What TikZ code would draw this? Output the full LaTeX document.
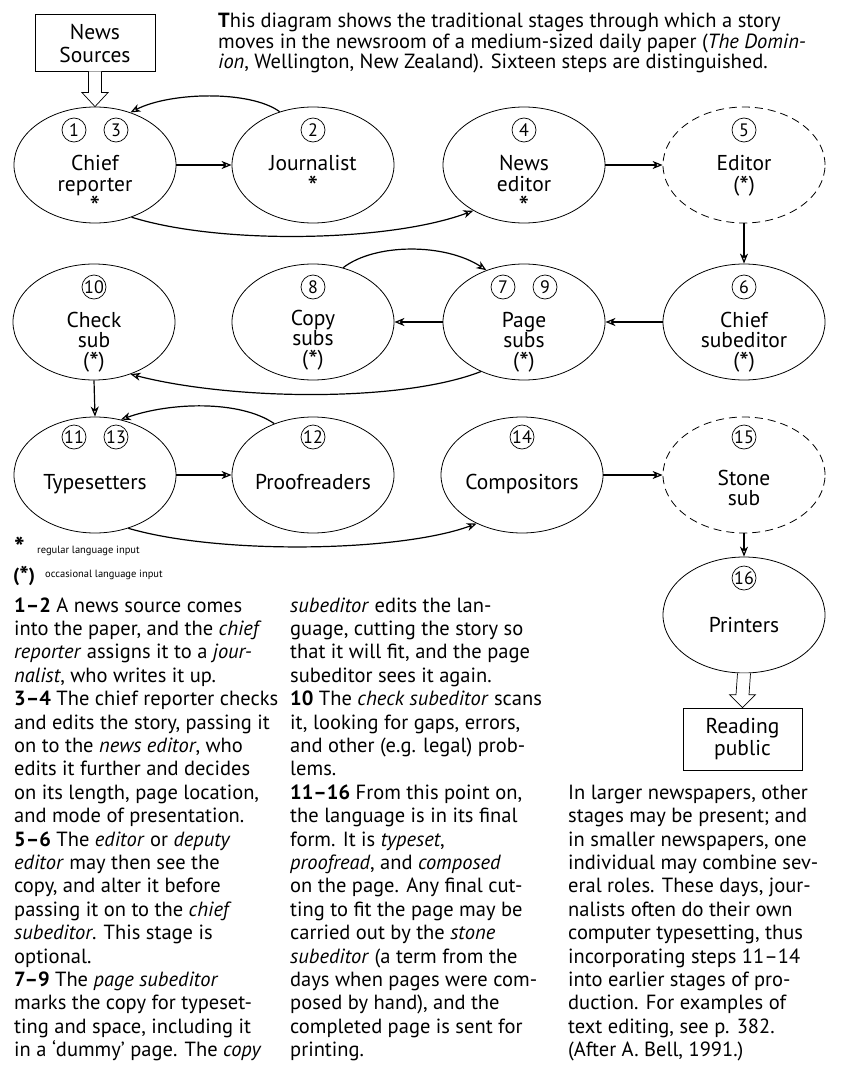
\documentclass[tikz,border=0pt]{standalone}
\usepackage{fontspec}
\setmainfont{PT Sans}
\usetikzlibrary{shapes.geometric,arrows.meta,calc}
\newcommand\bigstar{{\fontsize{30}{22}\selectfont\raisebox{-5pt}{*}}}
\newcommand\parstar{({\fontsize{27}{22}\selectfont\raisebox{-4pt}{*}})}
\begin{document}
\begin{tikzpicture}[x=1pt,y=-1pt,
  stage/.style={ellipse,draw,line width=0.8pt,minimum width=162pt,minimum height=116pt,inner sep=0pt},
  optstage/.style={stage,dash pattern=on 8pt off 5pt},
  num/.style={circle,draw,line width=0.7pt,minimum size=24pt,inner sep=0pt,font=\fontsize{18}{18}\selectfont},
  lbl/.style={anchor=base,inner sep=0pt,font=\fontsize{21.5}{22}\selectfont},
  body/.style={anchor=base west,inner sep=0pt,font=\fontsize{20.5}{23}\selectfont},
  small/.style={anchor=base west,inner sep=0pt,font=\fontsize{10.5}{12}\selectfont},
  conn/.style={line width=1.2pt,-{Stealth[open,length=10pt,width=8pt,inset=3pt]}},
  hollow/.style={line width=0.7pt,fill=white,line join=miter},
  srcbox/.style={draw,line width=0.6pt,inner sep=0pt}
]
\useasboundingbox[fill=white] (0,0) rectangle (845,1070);

% ---------- top paragraph ----------
\node[body] (p1) at (218,28) {\textbf{T}his diagram shows the traditional stages through which a story};
\node[body] (p2) at (218,48.5) {moves in the newsroom of a medium-sized daily paper (\textit{The Domin-}};
\node[body] (p3) at (218,69) {\textit{ion}, Wellington, New Zealand). Sixteen steps are distinguished.};

% ---------- boxes ----------
\node[srcbox,minimum width=120pt,minimum height=57pt] (src) at (95,42.5) {};
\node[lbl] (srcA) at (95,40) {News};
\node[lbl] (srcB) at (95,63) {Sources};

\node[srcbox,minimum width=119pt,minimum height=62pt] (pub) at (742.5,739) {};
\node[lbl] (pubA) at (742.5,733) {Reading};
\node[lbl] (pubB) at (742.5,755) {public};

% ---------- ellipses ----------
\node[stage] (chief) at (95,165) {};
\node[stage] (jour) at (313,165) {};
\node[stage] (news) at (524,165) {};
\node[optstage] (editor) at (744,165) {};

\node[stage] (check) at (94,322) {};
\node[stage] (copy) at (313,322) {};
\node[stage] (page) at (524,322) {};
\node[stage] (chiefsub) at (744,322) {};

\node[stage] (type) at (95,475) {};
\node[stage] (proof) at (313,475) {};
\node[stage] (comp) at (522,475) {};
\node[optstage] (stone) at (744,475) {};

\node[stage] (print) at (744,615) {};

% ---------- step numbers ----------
\node[num] (n1) at (74,130) {1};
\node[num] (n3) at (116,130) {3};
\node[num] (n2) at (313,130) {2};
\node[num] (n4) at (524,130) {4};
\node[num] (n5) at (744,130) {5};
\node[num] (n10) at (94,287) {10};
\node[num] (n8) at (313,287) {8};
\node[num] (n7) at (503,287) {7};
\node[num] (n9) at (545,287) {9};
\node[num] (n6) at (744,287) {6};
\node[num] (n11) at (74,437) {11};
\node[num] (n13) at (116,437) {13};
\node[num] (n12) at (313,437) {12};
\node[num] (n14) at (522,437) {14};
\node[num] (n15) at (744,437) {15};
\node[num] (n16) at (744,578) {16};

% ---------- labels ----------
\node[lbl] (l1a) at (95,170) {Chief};
\node[lbl] (l1b) at (95,191) {reporter};
\node[lbl] (l1c) at (95,212) {\bigstar};
\node[lbl] (l2a) at (313,170) {Journalist};
\node[lbl] (l2b) at (313,192) {\bigstar};
\node[lbl] (l4a) at (524,170) {News};
\node[lbl] (l4b) at (524,191) {editor};
\node[lbl] (l4c) at (524,212) {\bigstar};
\node[lbl] (l5a) at (744,170) {Editor};
\node[lbl] (l5b) at (744,191) {\parstar};

\node[lbl] (l10a) at (94,327) {Check};
\node[lbl] (l10b) at (94,347) {sub};
\node[lbl] (l10c) at (94,367) {\parstar};
\node[lbl] (l8a) at (313,325) {Copy};
\node[lbl] (l8b) at (313,345) {subs};
\node[lbl] (l8c) at (313,365) {\parstar};
\node[lbl] (l7a) at (524,327) {Page};
\node[lbl] (l7b) at (524,347) {subs};
\node[lbl] (l7c) at (524,367) {\parstar};
\node[lbl] (l6a) at (744,327) {Chief};
\node[lbl] (l6b) at (744,347) {subeditor};
\node[lbl] (l6c) at (744,367) {\parstar};

\node[lbl] (l11) at (95,489) {Typesetters};
\node[lbl] (l12) at (313,489) {Proofreaders};
\node[lbl] (l14) at (522,489) {Compositors};
\node[lbl] (l15a) at (744,485) {Stone};
\node[lbl] (l15b) at (744,505) {sub};
\node[lbl] (l16) at (744,632) {Printers};

% ---------- straight connectors ----------
\draw[conn] (chief.east) -- (jour.west);
\draw[conn] (news.east) -- (editor.west);
\draw[conn] (editor.south) -- (chiefsub.north);
\draw[conn] (chiefsub.west) -- (page.east);
\draw[conn] (page.west) -- (copy.east);
\draw[conn] (check.south) -- (type.north);
\draw[conn] (type.east) -- (proof.west);
\draw[conn] (comp.east) -- (stone.west);
\draw[conn] (stone.south) -- (print.north);

% ---------- curved connectors ----------
\draw[conn] (jour.122) .. controls (250,90) and (170,92) .. (chief.56);
\draw[conn] (chief.-55) .. controls (220,245) and (390,242) .. (news.-138);
\draw[conn] (copy.61) .. controls (375,243) and (445,243) .. (page.126);
\draw[conn] (page.-131) .. controls (400,403) and (230,400) .. (check.-55);
\draw[conn] (proof.127) .. controls (240,400) and (170,402) .. (type.65);
\draw[conn] (type.-58) .. controls (220,555) and (400,552) .. (comp.-133);

% ---------- hollow arrows ----------
\draw[hollow] ($(src.south)+(-6.5,0)$) -- ($(chief.north)+(-6.5,-14)$) -- ($(chief.north)+(-13,-14)$)
  -- (chief.north) -- ($(chief.north)+(13,-14)$) -- ($(chief.north)+(6.5,-14)$) -- ($(src.south)+(6.5,0)$);
\draw[hollow] ($(print.south)+(-6.5,0)$) -- ($(pub.north)+(-6.5,-13)$) -- ($(pub.north)+(-13,-13)$)
  -- (pub.north) -- ($(pub.north)+(13,-13)$) -- ($(pub.north)+(6.5,-13)$) -- ($(print.south)+(6.5,0)$);

% ---------- legend ----------
\node[anchor=base west,inner sep=0pt,font=\fontsize{28}{22}\selectfont\bfseries] (lgA) at (14,557) {*};
\node[small] (lgAt) at (37,553) {regular language input};
\node[anchor=base west,inner sep=0pt,font=\fontsize{19}{19}\selectfont\bfseries] (lgB) at (13,581) {({\fontsize{25}{19}\selectfont\raisebox{-3pt}{*}})};
\node[small] (lgBt) at (45,577) {occasional language input};

% ---------- body text ----------
\foreach \t [count=\i] in {
  {\textbf{1–2} A news source comes},
  {into the paper, and the \textit{chief}},
  {\textit{reporter} assigns it to a \textit{jour-}},
  {\textit{nalist}, who writes it up.},
  {\textbf{3–4} The chief reporter checks},
  {and edits the story, passing it},
  {on to the \textit{news editor}, who},
  {edits it further and decides},
  {on its length, page location,},
  {and mode of presentation.},
  {\textbf{5–6} The \textit{editor} or \textit{deputy}},
  {\textit{editor} may then see the},
  {copy, and alter it before},
  {passing it on to the \textit{chief}},
  {\textit{subeditor}. This stage is},
  {optional.},
  {\textbf{7–9} The \textit{page subeditor}},
  {marks the copy for typeset-},
  {ting and space, including it},
  {in a ‘dummy’ page. The \textit{copy}}}
  \node[body] (ca\i) at (14,{612+23.4*(\i-1)}) {\t};

\foreach \t [count=\i] in {
  {\textit{subeditor} edits the lan-},
  {guage, cutting the story so},
  {that it will fit, and the page},
  {subeditor sees it again.},
  {\textbf{10} The \textit{check subeditor} scans},
  {it, looking for gaps, errors,},
  {and other (e.g. legal) prob-},
  {lems.},
  {\textbf{11–16} From this point on,},
  {the language is in its final},
  {form. It is \textit{typeset},},
  {\textit{proofread}, and \textit{composed}},
  {on the page. Any final cut-},
  {ting to fit the page may be},
  {carried out by the \textit{stone}},
  {\textit{subeditor} (a term from the},
  {days when pages were com-},
  {posed by hand), and the},
  {completed page is sent for},
  {printing.}}
  \node[body] (cb\i) at (290,{612+23.4*(\i-1)}) {\t};

\foreach \t [count=\i] in {
  {In larger newspapers, other},
  {stages may be present; and},
  {in smaller newspapers, one},
  {individual may combine sev-},
  {eral roles. These days, jour-},
  {nalists often do their own},
  {computer typesetting, thus},
  {incorporating steps 11–14},
  {into earlier stages of pro-},
  {duction. For examples of},
  {text editing, see p. 382.},
  {(After A. Bell, 1991.)}}
  \node[body] (cc\i) at (568,{612+23.4*(\i+7)}) {\t};
\end{tikzpicture}
\end{document}
